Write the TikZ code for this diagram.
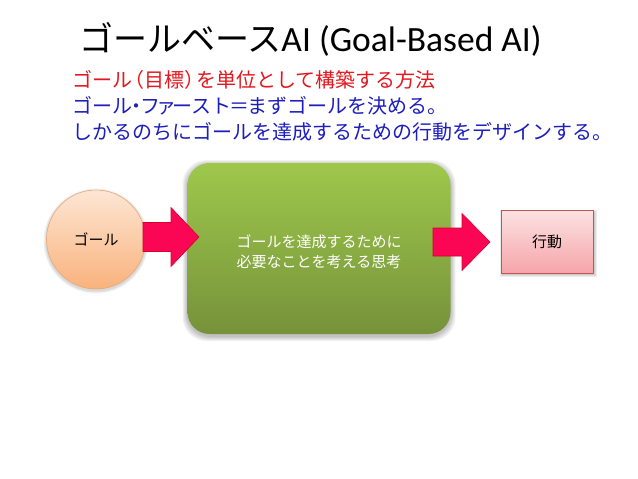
\documentclass[tikz,border=0pt]{standalone}
\usepackage{fontspec}
\setmainfont{Carlito}
\newfontfamily\jp{Noto Sans CJK JP}
\definecolor{redtxt}{RGB}{228,22,30}
\definecolor{bluetxt}{RGB}{30,30,190}
\definecolor{greentop}{RGB}{158,200,76}
\definecolor{greenbot}{RGB}{118,146,58}
\definecolor{peachtop}{RGB}{253,230,212}
\definecolor{peachbot}{RGB}{249,178,124}
\definecolor{peachline}{RGB}{232,168,120}
\definecolor{arrowfill}{RGB}{250,6,84}
\definecolor{arrowline}{RGB}{215,0,45}
\definecolor{pinktop}{RGB}{252,226,226}
\definecolor{pinkbot}{RGB}{245,165,170}
\definecolor{pinkline}{RGB}{196,84,84}
\tikzset{
  heading/.style={anchor=west, inner sep=0pt, font=\fontsize{35.5}{40}\selectfont},
  bodyline/.style={anchor=west, inner sep=0pt, font=\jp\fontsize{20}{24}\selectfont},
  thinkbox/.style={rectangle, rounded corners=22pt, top color=greentop, bottom color=greenbot,
     minimum width=263pt, minimum height=171pt, inner sep=0pt},
  goalnode/.style={circle, top color=peachtop, bottom color=peachbot, draw=peachline, line width=0.6pt,
     minimum size=99pt, inner sep=0pt},
  actnode/.style={rectangle, top color=pinktop, bottom color=pinkbot, draw=pinkline, line width=0.6pt,
     minimum width=92pt, minimum height=63pt, inner sep=0pt},
  boxtext/.style={font=\jp\fontsize{15}{20}\selectfont, align=center},
  blockarrow/.style={fill=arrowfill, draw=arrowline, line width=0.6pt, line join=miter},
  softshadow/.style={fill=black, opacity=0.05, rounded corners=24pt}
}
\begin{document}
\begin{tikzpicture}[x=1pt,y=-1pt]
\useasboundingbox (0,0) rectangle (638,479);
\fill[white] (0,0) rectangle (638,479);

% title and text lines
\node[heading] (title) at (79,39) {{\jp\fontsize{34}{40}\selectfont ゴールベース}AI (Goal-Based AI)};
\node[bodyline, text=redtxt] (line1) at (72,80) {ゴール\hspace{-0.4em}（目標）\hspace{-0.4em}を単位として構築する方法};
\node[bodyline, text=bluetxt] (line2) at (72,106) {ゴール\hspace{-0.3em}・\hspace{-0.3em}フ\hspace{-0.2em}ァ\hspace{-0.2em}ースト\hspace{-0.08em}＝\hspace{-0.08em}まずゴールを決める。};
\node[bodyline, text=bluetxt] (line3) at (72,132) {しかるのちにゴールを達成するための行動をデザインする。};

% shadows
\foreach \e in {1,2,3,4,5}{
  \fill[softshadow] (187.5-\e,163+2-\e) rectangle (450.5+\e,334+2+\e);
}
\foreach \e in {1,2,3}{
  \fill[black, opacity=0.05] (96,241) circle[radius=49.5+\e];
}
\foreach \e in {0,1,2}{
  \fill[black, opacity=0.07] (502-\e,212-\e) rectangle (595+\e,275+\e);
}

% main shapes
\node[goalnode] (goal) at (96,239.5) {};
\node[boxtext] at (goal.center) {ゴール};
\node[thinkbox] (think) at (319,248.5) {};
\node[boxtext, text=white] (thinktext) at (319,252) {ゴールを達成するために\\必要なことを考える思考};
\node[actnode] (act) at (547,241.5) {};
\node[boxtext] at (act.center) {行動};

% block arrows
\coordinate (a1) at (143,237);
\draw[blockarrow] (a1) ++(0,-14.5) -- ++(28,0) -- ++(0,-15) -- ++(28,29.5) -- ++(-28,29.5) -- ++(0,-15) -- ++(-28,0) -- cycle;
\coordinate (a2) at (433,242);
\draw[blockarrow] (a2) ++(0,-14) -- ++(29,0) -- ++(0,-14.5) -- ++(28,28.5) -- ++(-28,28.5) -- ++(0,-14.5) -- ++(-29,0) -- cycle;
\end{tikzpicture}
\end{document}
